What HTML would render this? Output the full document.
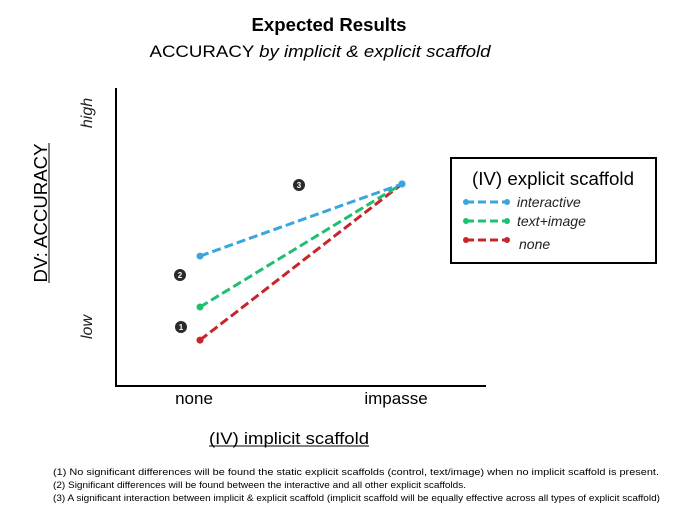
<!DOCTYPE html>
<html><head><meta charset="utf-8"><style>
body{margin:0;background:#fff;}
svg{display:block;font-family:"Liberation Sans",Arial,sans-serif;}
</style></head><body>
<svg id="chart" width="687" height="523" viewBox="0 0 687 523">
<text x="329" y="31" font-size="18" font-weight="bold" text-anchor="middle" textLength="155" lengthAdjust="spacingAndGlyphs">Expected Results</text>
<text x="320" y="57" font-size="17" text-anchor="middle" textLength="341" lengthAdjust="spacingAndGlyphs">ACCURACY <tspan font-style="italic">by implicit &amp; explicit scaffold</tspan></text>
<line x1="116" y1="88" x2="116" y2="386" stroke="#000" stroke-width="2"/>
<line x1="115" y1="386" x2="486" y2="386" stroke="#000" stroke-width="2"/>
<text transform="translate(47,213) rotate(-90)" font-size="18" text-anchor="middle" textLength="139" lengthAdjust="spacingAndGlyphs">DV: ACCURACY</text>
<line x1="49" y1="143" x2="49" y2="283" stroke="#000" stroke-width="1"/>
<text transform="translate(92,113) rotate(-90)" font-size="16" font-style="italic" text-anchor="middle" fill="#222">high</text>
<text transform="translate(92,327) rotate(-90)" font-size="16" font-style="italic" text-anchor="middle" fill="#222">low</text>
<g id="xticks"></g>
<text x="289" y="444" font-size="17" text-anchor="middle" textLength="160" lengthAdjust="spacingAndGlyphs">(IV) implicit scaffold</text>
<line x1="209" y1="446" x2="369" y2="446" stroke="#000" stroke-width="1"/>
<g id="series"></g>
<g id="badges"></g>
<rect x="451" y="158" width="205" height="105" fill="#fff" stroke="#000" stroke-width="2"/>
<text x="553" y="185" font-size="18" text-anchor="middle" textLength="162" lengthAdjust="spacingAndGlyphs">(IV) explicit scaffold</text>
<g id="legend"></g>
<text x="53" y="475" font-size="9.5" textLength="606" lengthAdjust="spacingAndGlyphs">(1) No significant differences will be found the static explicit scaffolds (control, text/image) when no implicit scaffold is present.</text>
<text x="53" y="488" font-size="9.5" textLength="413" lengthAdjust="spacingAndGlyphs">(2) Significant differences will be found between the interactive and all other explicit scaffolds.</text>
<text x="53" y="501" font-size="9.5" textLength="607" lengthAdjust="spacingAndGlyphs">(3) A significant interaction between implicit &amp; explicit scaffold (implicit scaffold will be equally effective across all types of explicit scaffold)</text>
</svg>
<script>
const categories = ["none", "impasse"];
const seriesNames = ["interactive", "text+image", "none"];
const interactiveValues = [4.36, 6.78];
const textImageValues = [2.65, 6.78];
const noneValues = [1.54, 6.78];
const seriesColors = ["#3aa6dd", "#1fbf72", "#c8242a"];

const NS = "http://www.w3.org/2000/svg";
function xPos(i){ return 200 + i * 202; }
function yPos(v){ return 386 - v * 29.8; }
function mk(tag, attrs, parent){
  const e = document.createElementNS(NS, tag);
  for (const k in attrs) e.setAttribute(k, attrs[k]);
  parent.appendChild(e); return e;
}
const xt = document.getElementById("xticks");
categories.forEach((c, i) => {
  const t = mk("text", {x: xPos(i) - 6, y: 404, "font-size": 17, "text-anchor": "middle"}, xt);
  t.textContent = c;
  
  
});
const sg = document.getElementById("series");
const allValues = [interactiveValues, textImageValues, noneValues];
[2,1,0].forEach(s => {
  const vals = allValues[s];
  const g = mk("g", {}, sg);
  
  
  mk("line", {x1: xPos(0), y1: yPos(vals[0]), x2: xPos(1), y2: yPos(vals[1]), stroke: seriesColors[s], "stroke-width": 3, "stroke-dasharray": "9 4"}, g);
  vals.forEach((v, i) => {
    const p = mk("circle", {cx: xPos(i), cy: yPos(v), r: 3.5, fill: seriesColors[s]}, g);
    
    
  });
});
const badgeLabels = ["1", "2", "3"];
const badgeXY = [[181,327],[180,275],[299,185]];
const bg = document.getElementById("badges");
badgeLabels.forEach((b, i) => {
  const g = mk("g", {}, bg);
  
  
  mk("circle", {cx: badgeXY[i][0], cy: badgeXY[i][1], r: 6, fill: "#2a2a2a"}, g);
  const t = mk("text", {x: badgeXY[i][0], y: badgeXY[i][1] + 3, "font-size": 8, "font-weight": "bold", fill: "#fff", "text-anchor": "middle"}, g);
  t.textContent = b;
});
const lg = document.getElementById("legend");
seriesNames.forEach((n, i) => {
  const y = 202 + i * 19;
  const g = mk("g", {}, lg);
  
  
  mk("line", {x1: 466, y1: y, x2: 507, y2: y, stroke: seriesColors[i], "stroke-width": 3, "stroke-dasharray": "8 4"}, g);
  mk("circle", {cx: 466, cy: y, r: 3, fill: seriesColors[i]}, g);
  mk("circle", {cx: 507, cy: y, r: 3, fill: seriesColors[i]}, g);
  const t = mk("text", {x: i === 2 ? 519 : 517, y: y + 5 + (i===2?4:0), "font-size": 14, "font-style": "italic", fill: "#222"}, g);
  t.textContent = n;
});
</script>
</body></html>
